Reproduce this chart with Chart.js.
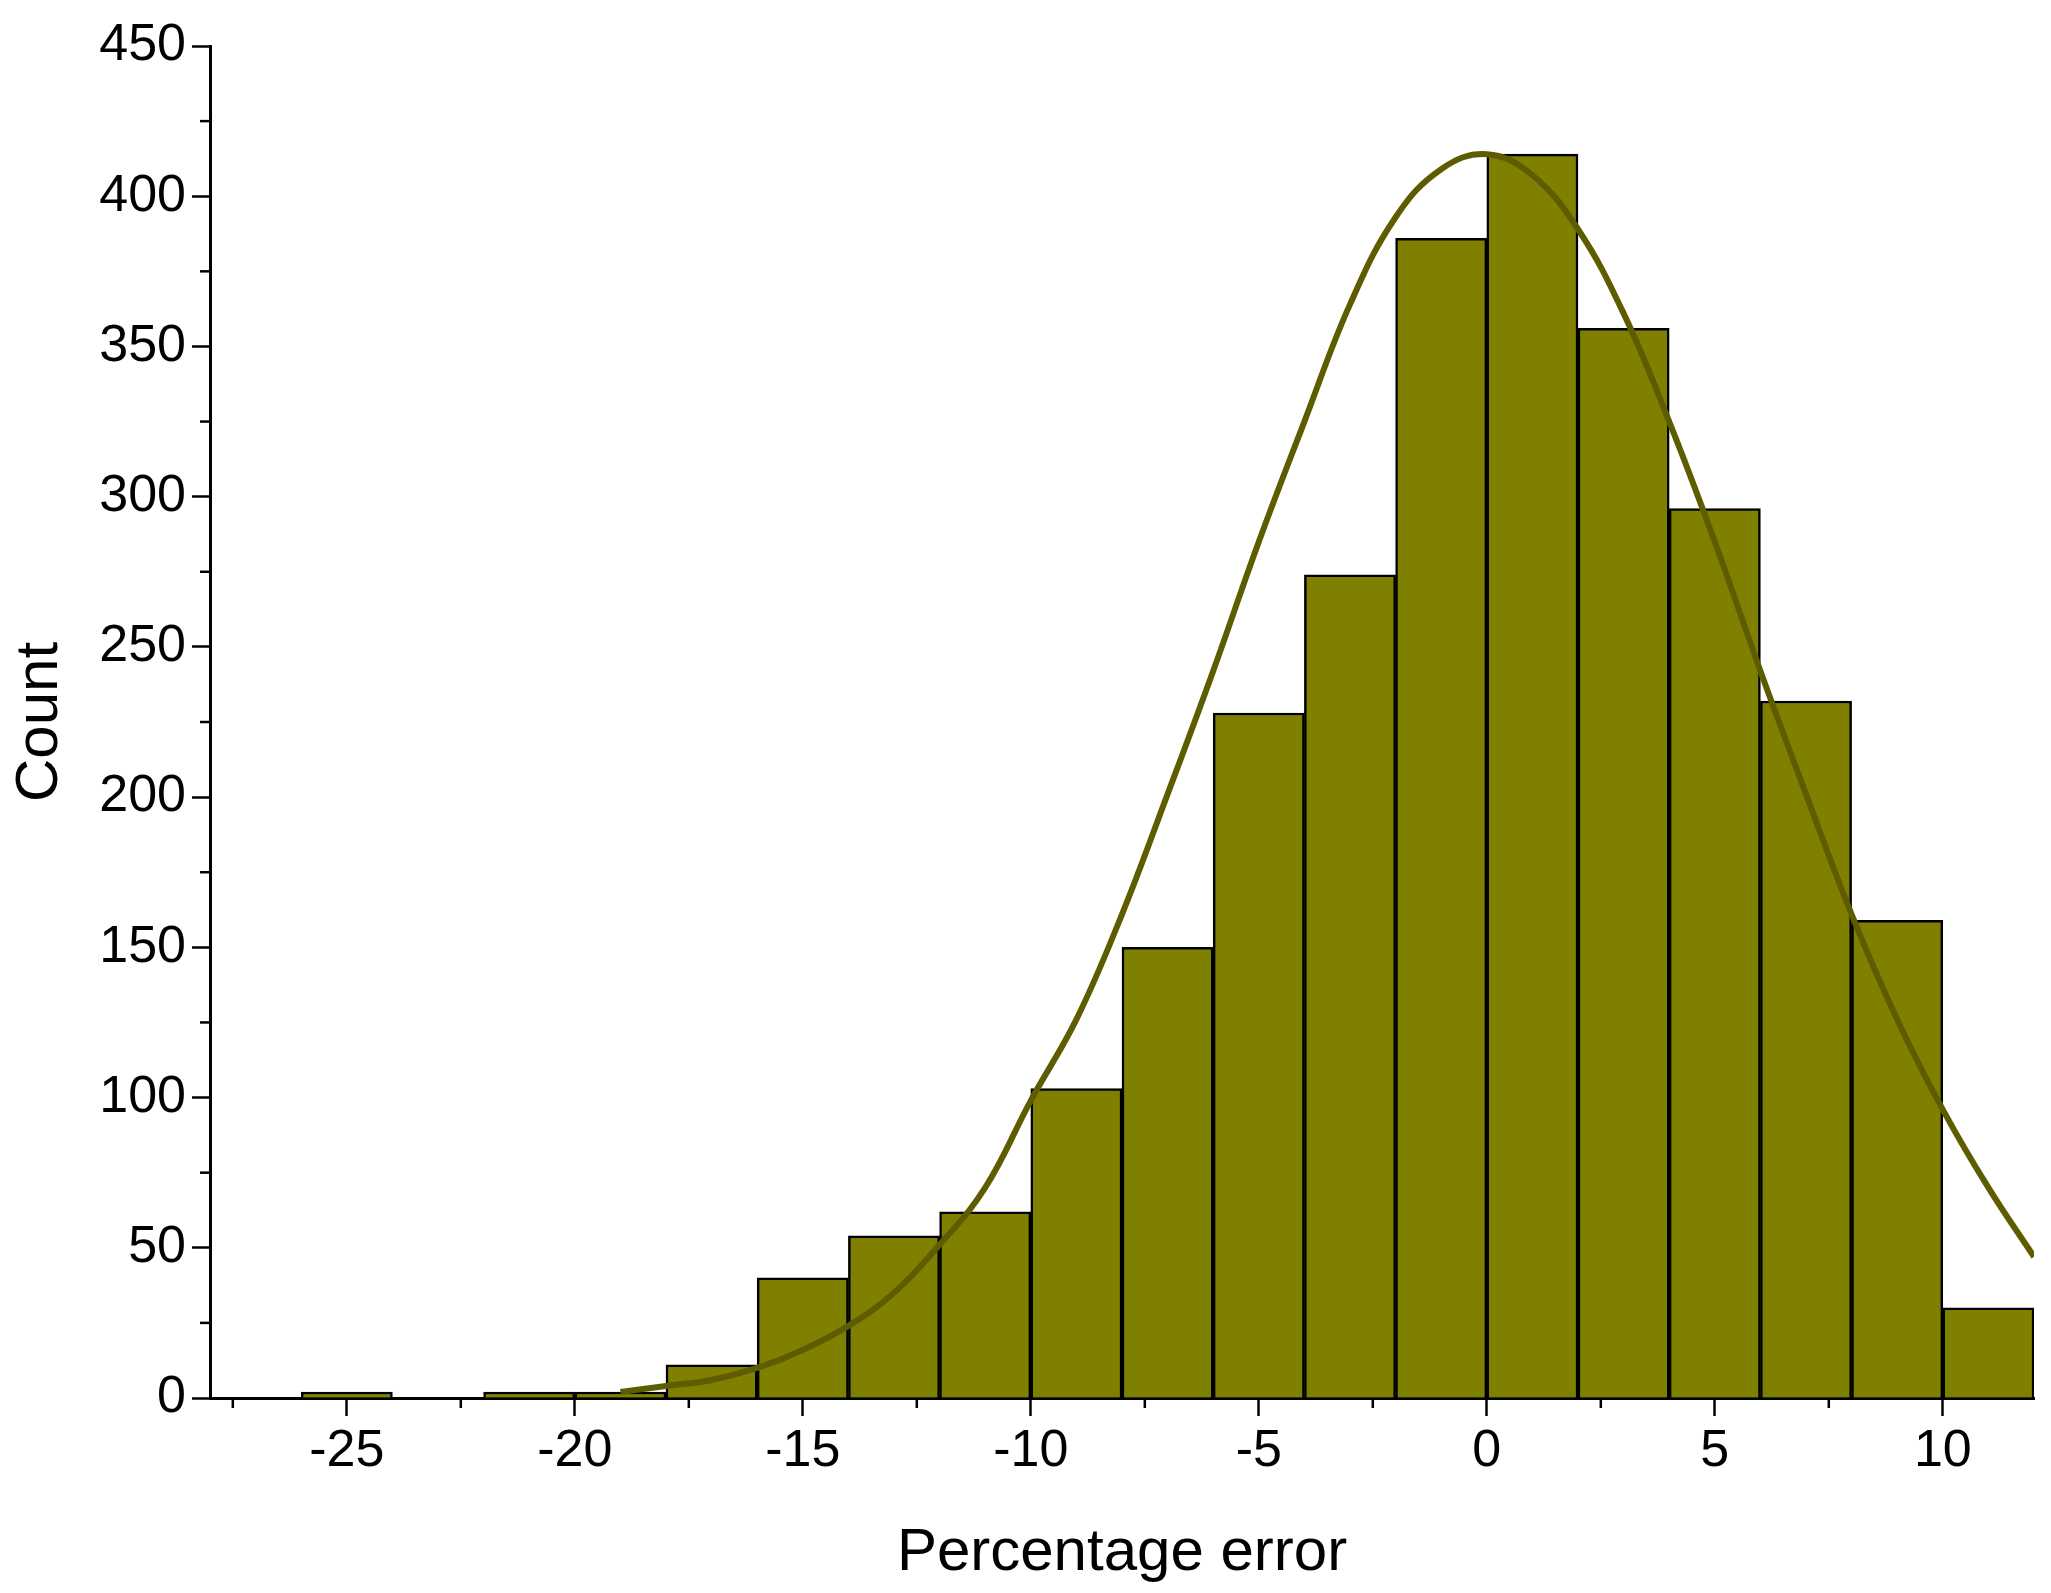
<!DOCTYPE html>
<html>
<head>
<meta charset="utf-8">
<script src="https://cdn.jsdelivr.net/npm/chart.js@4/dist/chart.umd.min.js"></script>
<style>
html,body{margin:0;padding:0;background:#fff;}
#wrap{width:2051px;height:1593px;}
</style>
</head>
<body>
<div id="wrap"><canvas id="chart"></canvas></div>
<script>
// histogram bins (centres, width 2)
const binCenters = [-25,-23,-21,-19,-17,-15,-13,-11,-9,-7,-5,-3,-1,1,3,5,7,9,11];
const binCounts  = [2,0,2,2,11,40,54,62,103,150,228,274,386,414,356,296,232,159,30];

// fitted normal curve
const curveX = [-19,-18,-17,-16,-15,-14,-13,-12,-11,-10,-9,-8,-7,-6,-5,-4,-3,-2,-1,0,1,2,3,4,5,6,7,8,9,10,11,12];
const curveY = [2,4,6,10,16,24,35,51,70,99,126,161,201,242,285,325,364,393,409,414,407,389,361,325,285,242,201,161,126,96,70,47];

const xMajor = [-25,-20,-15,-10,-5,0,5,10];
const yMajor = [0,50,100,150,200,250,300,350,400,450];

const font = "'Liberation Sans', Arial, sans-serif";

const minorTicks = {
    id: "minorTicks",
    afterDraw(c){
        const g = c.ctx, xs = c.scales.x, ys = c.scales.y, a = c.chartArea;
        g.save();
        g.strokeStyle = "#000";
        g.lineWidth = 2.5;
        for(let v=-27.5; v<12; v+=5){
            const p = xs.getPixelForValue(v);
            g.beginPath(); g.moveTo(p,a.bottom); g.lineTo(p,a.bottom+10); g.stroke();
        }
        for(let v=25; v<450; v+=50){
            const p = ys.getPixelForValue(v);
            g.beginPath(); g.moveTo(a.left,p); g.lineTo(a.left-10,p); g.stroke();
        }
        g.restore();
    }
};

new Chart(document.getElementById("chart"), {
    data: {
        datasets: [
            {
                type: "bar",
                data: binCenters.map((x,i)=>({x, y: binCounts[i]})),
                backgroundColor: "#808000",
                borderColor: "#000",
                borderWidth: 2.5,
                barPercentage: 1,
                categoryPercentage: 1,
                order: 2
            },
            {
                type: "line",
                data: curveX.map((x,i)=>({x, y: curveY[i]})),
                borderColor: "#5e5c00",
                borderWidth: 6,
                pointRadius: 0,
                tension: 0.4,
                order: 1
            }
        ]
    },
    options: {
        responsive: true,
        maintainAspectRatio: false,
        animation: false,
        layout: { padding: { top: 46, right: 17, left: 0, bottom: 0 } },
        plugins: { legend: { display: false }, tooltip: { enabled: false } },
        scales: {
            x: {
                type: "linear",
                offset: false,
                min: -28, max: 12,
                afterBuildTicks: s => { s.ticks = xMajor.map(v=>({value:v})); },
                afterFit: s => { s.height = 195; },
                ticks: { color: "#000", font: { family: font, size: 52 }, padding: 4, maxRotation: 0 },
                grid: { offset: false, drawOnChartArea: false, tickLength: 18, tickWidth: 2.5, tickColor: "#000" },
                border: { color: "#000", width: 3 },
                title: { display: true, text: "Percentage error", color: "#000", font: { family: font, size: 60 }, padding: { top: 14 } }
            },
            y: {
                min: 0, max: 450,
                afterBuildTicks: s => { s.ticks = yMajor.map(v=>({value:v})); },
                afterFit: s => { s.width = 210; },
                ticks: { color: "#000", font: { family: font, size: 52 }, padding: 6 },
                grid: { drawOnChartArea: false, tickLength: 18, tickWidth: 2.5, tickColor: "#000" },
                border: { color: "#000", width: 3 },
                title: { display: true, text: "Count", color: "#000", font: { family: font, size: 60 }, padding: { bottom: 0 } }
            }
        }
    },
    plugins: [minorTicks]
});
</script>
</body>
</html>
